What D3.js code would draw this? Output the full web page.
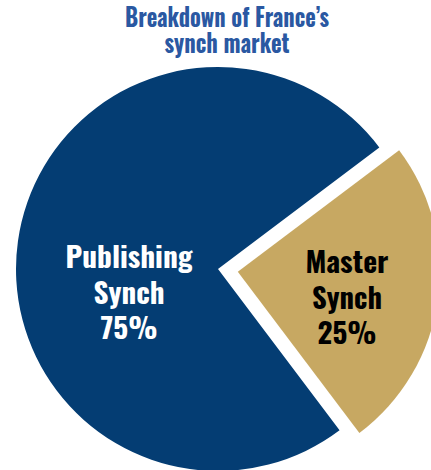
<!DOCTYPE html>
<html>
<head>
<meta charset="utf-8">
<script src="https://cdn.jsdelivr.net/npm/d3@7"></script>
<style>
  html, body { margin: 0; padding: 0; background: #ffffff; }
  svg { display: block; }
  text { font-family: Oswald, "Roboto Condensed", "Liberation Sans Narrow", "DejaVu Sans Condensed", sans-serif; font-weight: 700; }
</style>
</head>
<body>
<svg id="chart" width="431" height="470"></svg>
<script>
// Segments of the French synch market
const segments = ["Publishing Synch", "Master Synch"];
const shares = [75, 25];
const labelLines = [["Publishing", "Synch", "75%"], ["Master", "Synch", "25%"]];
const titleLines = ["Breakdown of France\u2019s", "synch market"];

const W = 431, H = 470;
const cx = 218, cy = 269, R = 202;
const explode = 20;
const deg = Math.PI / 180;

const colors = d3.scaleOrdinal().domain(segments).range(["#043d73", "#c7a862"]);
const textColors = d3.scaleOrdinal().domain(segments).range(["#ffffff", "#000000"]);

const svg = d3.select("#chart");

// Title, two centred lines
const titleWidths = [204, 125];
svg.append("g").selectAll("text")
  .data(titleLines)
  .join("text")
  .attr("x", 227)
  .attr("y", (d, i) => 27 + i * 26)
  .attr("text-anchor", "middle")
  .attr("fill", "#2a58a2")
  .attr("font-size", 25)
  .attr("textLength", (d, i) => titleWidths[i])
  .attr("lengthAdjust", "spacingAndGlyphs")
  .text(d => d);

// Pie, with the smaller slice pulled out along its bisector
const pie = d3.pie().sort(null).startAngle(143 * deg).endAngle(503 * deg);
const arcs = pie(shares).map((a, i) => ({ ...a, name: segments[i], lines: labelLines[i] }));
const arc = d3.arc().innerRadius(0).outerRadius(R);

const offset = (d, i) => {
  if (i === 0) return [0, 0];
  const mid = (d.startAngle + d.endAngle) / 2;
  return [Math.sin(mid) * explode, -Math.cos(mid) * explode];
};

const g = svg.append("g").attr("transform", `translate(${cx},${cy})`);

g.selectAll("path")
  .data(arcs)
  .join("path")
  .attr("transform", (d, i) => `translate(${offset(d, i)})`)
  .attr("d", arc)
  .attr("fill", d => colors(d.name));

// Slice labels: three lines each, positioned relative to the pie centre
const labelPos = [[-89, 268 - cy], [129, 273 - cy]];
const labelWidths = [[127, 71, 57], [83, 70, 59]];
const lineStep = 35.5;

arcs.forEach((d, i) => {
  g.append("g")
    .selectAll("text")
    .data(d.lines)
    .join("text")
    .attr("x", labelPos[i][0])
    .attr("y", (t, j) => labelPos[i][1] + j * lineStep)
    .attr("text-anchor", "middle")
    .attr("fill", textColors(d.name))
    .attr("font-size", 29)
    .attr("textLength", (t, j) => labelWidths[i][j])
    .attr("lengthAdjust", "spacingAndGlyphs")
    .text(t => t);
});
</script>
</body>
</html>
